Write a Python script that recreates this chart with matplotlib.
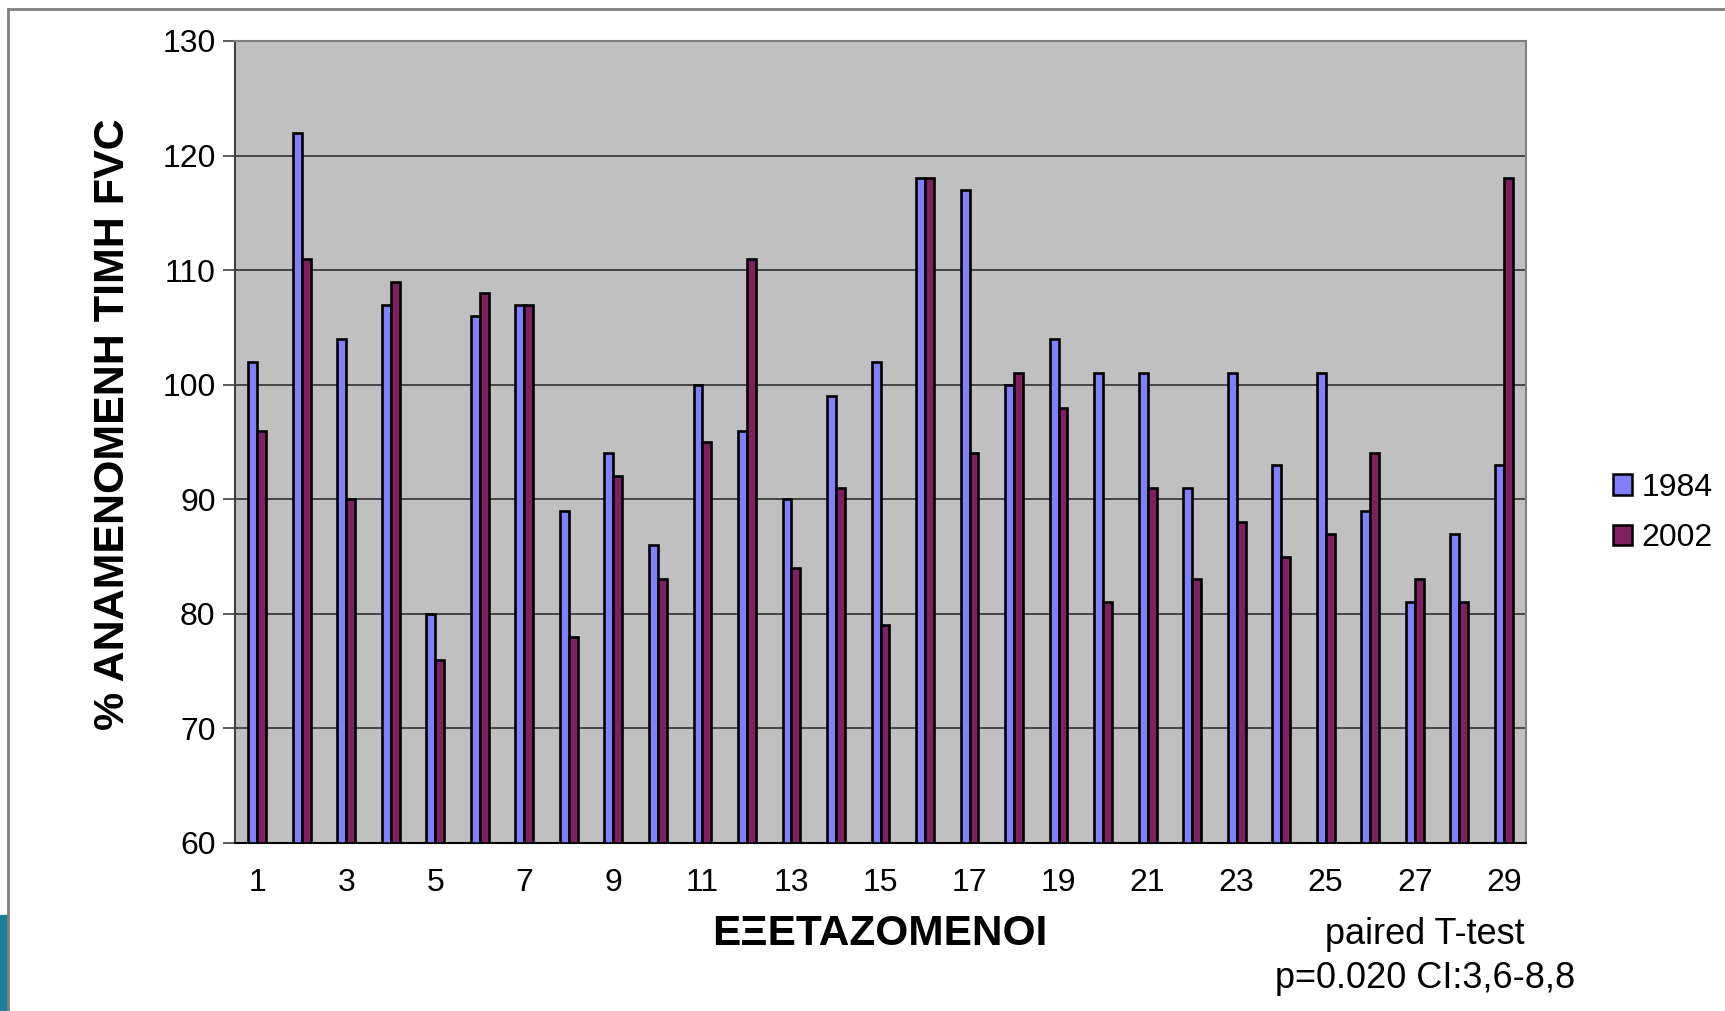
import numpy as np
import matplotlib.pyplot as plt
from matplotlib.patches import Patch, Rectangle
from matplotlib.lines import Line2D

plt.rcParams['font.family'] = ['Liberation Sans', 'DejaVu Sans']

subjects = np.arange(1, 30)
fvc_1984 = [102, 122, 104, 107, 80, 106, 107, 89, 94, 86, 100, 96, 90, 99, 102,
            118, 117, 100, 104, 101, 101, 91, 101, 93, 101, 89, 81, 87, 93]
fvc_2002 = [96, 111, 90, 109, 76, 108, 107, 78, 92, 83, 95, 111, 84, 91, 79,
            118, 94, 101, 98, 81, 91, 83, 88, 85, 87, 94, 83, 81, 118]
y_ticks = [60, 70, 80, 90, 100, 110, 120, 130]
x_ticks = list(range(1, 30, 2))

W, H = 1725, 1011
fig = plt.figure(figsize=(W / 100, H / 100), dpi=100)
ax = fig.add_axes([235 / W, 1 - 843 / H, (1526 - 235) / W, (843 - 41) / H])
ax.set_facecolor('#c0c0c0')

bw = 0.2
ax.bar(subjects - bw / 2, np.array(fvc_1984) - 60, bw, bottom=60, color='#8080ff',
       edgecolor='black', linewidth=1.9, zorder=3)
ax.bar(subjects + bw / 2, np.array(fvc_2002) - 60, bw, bottom=60, color='#802060',
       edgecolor='black', linewidth=1.9, zorder=3)

ax.set_xlim(0.5, 29.5)
ax.set_ylim(60, 130)
ax.set_yticks(y_ticks)
ax.set_xticks(x_ticks)
ax.tick_params(axis='y', direction='out', length=9, width=1.2, color='#404040',
               labelsize=23, pad=5)
ax.tick_params(axis='x', length=0, labelsize=23, pad=18)
ax.yaxis.grid(True, color='#303030', linewidth=1.2, zorder=1)
ax.set_axisbelow(True)
for side in ['top', 'right', 'left']:
    ax.spines[side].set_color('#808080')
    ax.spines[side].set_linewidth(1.5)
ax.spines['left'].set_color('#404040')
ax.spines['bottom'].set_color('black')
ax.spines['bottom'].set_linewidth(1.5)

fig.text(113 / W, 1 - 424 / H, '% ΑΝΑΜΕΝΟΜΕΝΗ ΤΙΜΗ FVC', rotation=90,
         fontsize=31, fontweight='bold', ha='center', va='center')
fig.text(880 / W, 1 - 934 / H, 'ΕΞΕΤΑΖΟΜΕΝΟΙ', fontsize=30.5, fontweight='bold',
         ha='center', va='center')
fig.text(1425 / W, 1 - 934 / H, 'paired T-test', fontsize=26, ha='center', va='center')
fig.text(1425 / W, 1 - 978 / H, 'p=0.020 CI:3,6-8,8', fontsize=26, ha='center', va='center')

handles = [Patch(facecolor='#8080ff', edgecolor='black', linewidth=1.8, label='1984'),
           Patch(facecolor='#802060', edgecolor='black', linewidth=1.8, label='2002')]
fig.legend(handles=handles, loc='center left', bbox_to_anchor=(1600 / W, 1 - 513 / H),
           frameon=False, fontsize=23, handlelength=0.6, handleheight=0.6,
           handletextpad=0.3, labelspacing=0.65, borderaxespad=0)

# slide frame decorations
fig.add_artist(Line2D([8 / W, 1], [1 - 9 / H, 1 - 9 / H], color='#808080', linewidth=2))
fig.add_artist(Line2D([8 / W, 8 / W], [0, 1 - 9 / H], color='#808080', linewidth=2))
fig.add_artist(Rectangle((0, 0), 8 / W, 96 / H, color='#1b7f98'))

fig.savefig('out.png', dpi=100)
